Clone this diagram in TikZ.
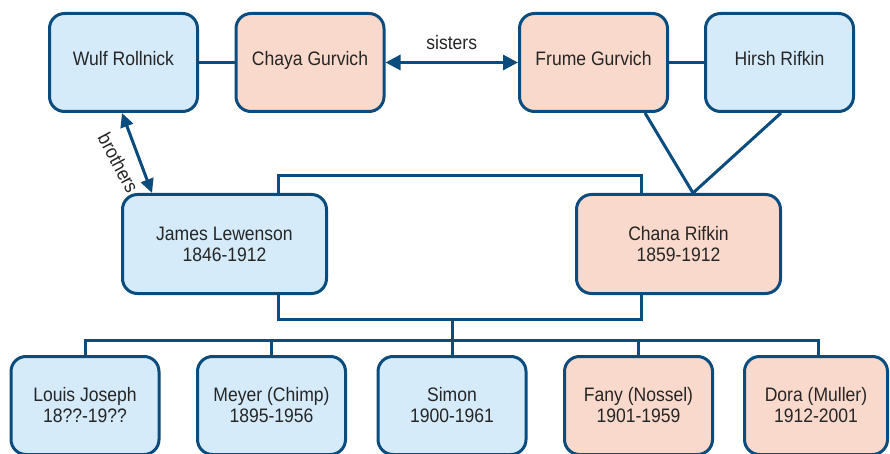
\documentclass[tikz,border=0pt]{standalone}
\usepackage{fontspec}
\setmainfont{Liberation Sans}[FakeStretch=0.9]
\usetikzlibrary{arrows.meta,calc}
\definecolor{bordc}{HTML}{0B4C7E}
\definecolor{bluef}{HTML}{D5EBFA}
\definecolor{pinkf}{HTML}{F9D9CB}
\definecolor{txtc}{HTML}{262626}
\begin{document}
\begin{tikzpicture}[x=1pt,y=-1pt,
  person/.style={draw=bordc, line width=3pt, rounded corners=15pt, inner sep=0pt,
    minimum width=148pt, minimum height=98pt, align=center, text=txtc,
    font=\fontsize{19.5}{21}\selectfont},
  man/.style={person, fill=bluef},
  woman/.style={person, fill=pinkf},
  link/.style={draw=bordc, line width=3pt},
  lbl/.style={text=txtc, font=\fontsize{19.5}{21}\selectfont, inner sep=0pt}
]
\useasboundingbox (0,0) rectangle (890,454);
% top row
\node[man]   (wulf)  at (123.5,62.5) {Wulf Rollnick\\[-13pt]};
\node[woman] (chaya) at (310,62.5)   {Chaya Gurvich\\[-13pt]};
\node[woman] (frume) at (593.5,62.5) {Frume Gurvich\\[-13pt]};
\node[man]   (hirsh) at (779.5,62.5) {Hirsh Rifkin\\[-13pt]};
% middle row
\node[man, minimum width=204pt, minimum height=99pt]   (james) at (224.5,244) {James Lewenson\\1846-1912};
\node[woman, minimum width=204pt, minimum height=99pt] (chana) at (678.5,244) {Chana Rifkin\\1859-1912};
% children
\node[man]   (louis) at (85,405.5)  {Louis Joseph\\18??-19??};
\node[man]   (meyer) at (271.5,405.5) {Meyer (Chimp)\\1895-1956};
\node[man]   (simon) at (452,405.5) {Simon\\1900-1961};
\node[woman] (fany)  at (638.5,405.5) {Fany (Nossel)\\1901-1959};
\node[woman, minimum width=143pt] (dora) at (816,405.5) {Dora (Muller)\\1912-2001};
% couples
\draw[link] (wulf) -- (chaya);
\draw[link] (frume) -- (hirsh);
\draw[link, {Triangle[length=15pt,width=15pt]}-{Triangle[length=15pt,width=15pt]}] (chaya) -- (frume)
  node[lbl, midway, yshift=20pt] (sis) {sisters};
% brothers
\draw[link, {Triangle[length=14pt,width=13pt]}-{Triangle[length=14pt,width=13pt]}]
  ([xshift=-1.5pt]wulf.south) -- ([xshift=-72.5pt]james.north)
  node[lbl, midway, rotate=-62, yshift=-21pt] (bro) {brothers};
% marriage James - Chana
\draw[link] ([xshift=53.5pt]james.north) -- ++(0,-17.5) -| ([xshift=-37.5pt]chana.north);
\draw[link] ([xshift=53.5pt]james.south) -- ++(0,24.5) -| ([xshift=-37.5pt]chana.south);
\coordinate (mid) at (452,318);
\coordinate (busL) at (85,340);
\coordinate (busR) at (818,340);
\draw[link] (mid) -- (simon.north);
\draw[link] (louis.north) -- (busL) -- (busR) -- (busR |- dora.north);
\draw[link] (meyer.north) -- (meyer.north |- busL);
\draw[link] (fany.north) -- (fany.north |- busL);
% Rifkin parents
\draw[link] ([xshift=51.5pt]frume.south) -- ([xshift=14.5pt]chana.north);
\draw[link] ([xshift=1.5pt]hirsh.south) -- ([xshift=14.5pt]chana.north);
\end{tikzpicture}
\end{document}
